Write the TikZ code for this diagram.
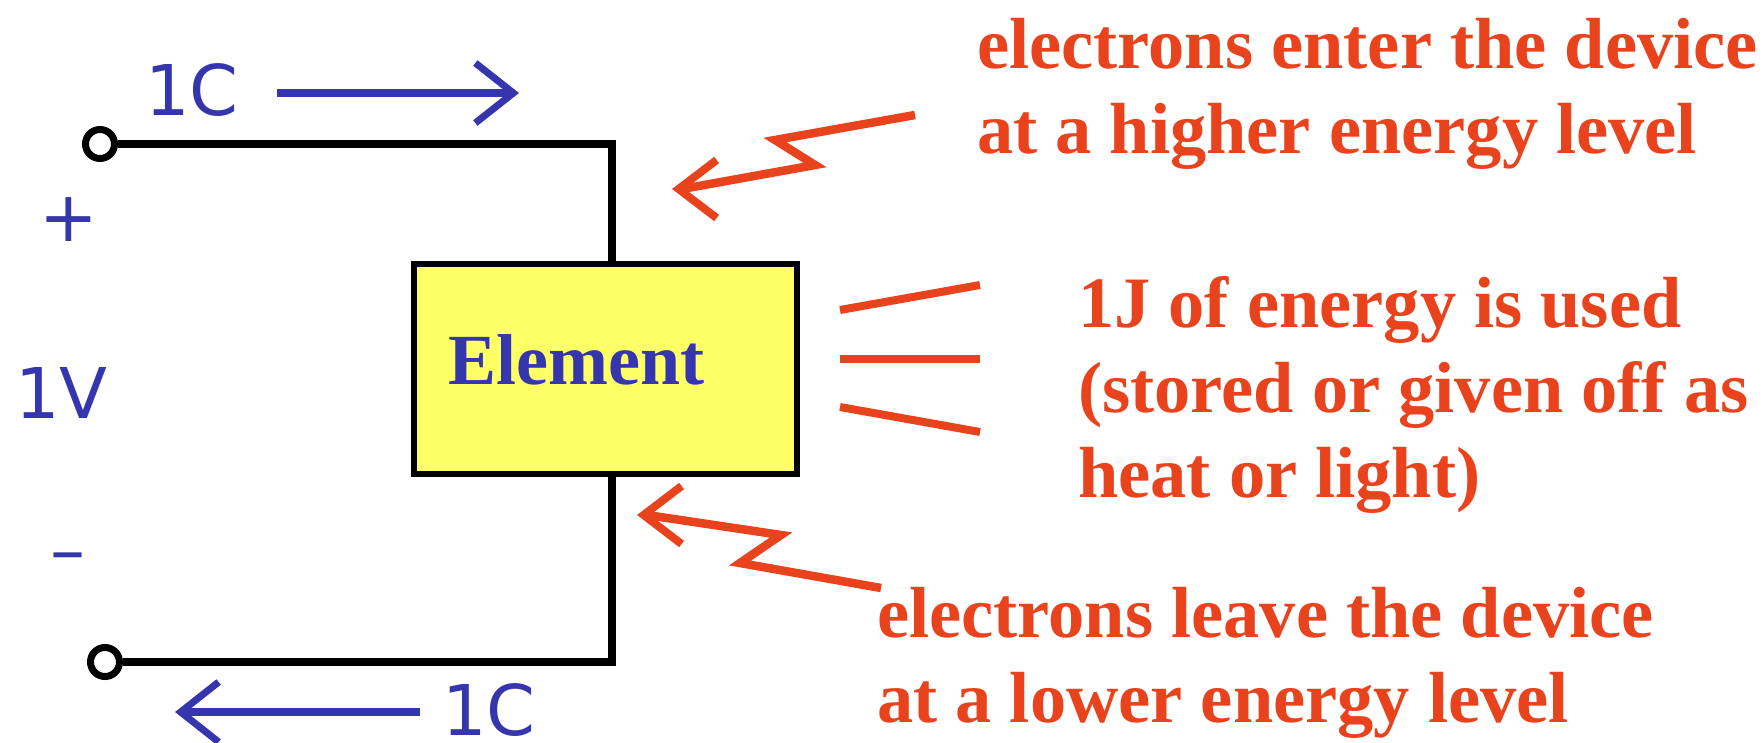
\documentclass[tikz,border=0pt]{standalone}
\usepackage{fontspec}
\setmainfont{Liberation Serif}
\newfontfamily\labelfont{DejaVu Sans}
\usetikzlibrary{arrows.meta, positioning}
\definecolor{mWireBlue}{HTML}{3535AE}
\definecolor{mNoteRed}{HTML}{E8431C}
\definecolor{mBoxYellow}{HTML}{FFFF66}
\begin{document}
\begin{tikzpicture}[x=1pt, y=-1pt, line join=miter,
    wire/.style={draw=black, line width=8pt},
    terminal/.style={draw=black, circle, fill=white, line width=7pt, minimum size=29pt, inner sep=0pt},
    flow/.style={draw=mWireBlue, line width=8pt, -{Straight Barb[length=38pt, width=60pt, line width=7pt]}},
    zig/.style={draw=mNoteRed, line width=8.5pt, -{Straight Barb[length=38pt, width=58pt, line width=8pt]}},
    ray/.style={draw=mNoteRed, line width=8pt},
    sign/.style={text=mWireBlue, font=\labelfont\fontsize{70}{70}\selectfont, inner sep=0pt},
    note/.style={text=mNoteRed, font=\bfseries\fontsize{72.4}{85}\selectfont, align=left, inner sep=0pt, anchor=north west}]
  \useasboundingbox (0,0) rectangle (1763,742);
  % circuit
  \node[draw=black, line width=6pt, fill=mBoxYellow, minimum width=383pt, minimum height=210pt, inner sep=0pt] (element) at (605,369) {};
  \node[text=mWireBlue, font=\bfseries\fontsize{72}{72}\selectfont, inner sep=0pt, anchor=base west] (elementtext) at (448,384) {Element};
  \node[terminal] (plus) at (100,144) {};
  \node[terminal] (minus) at (105,662) {};
  \coordinate (topcorner) at (612,142);
  \coordinate (botcorner) at (612,665);
  \draw[wire] (plus) -- (plus -| topcorner) -- ++(0,4) (topcorner) -- (topcorner |- element.north);
  \draw[wire] (minus) -- (minus -| botcorner) -- ++(0,4) (botcorner) -- (botcorner |- element.south);
  % labels
  \node[sign, anchor=base west] (qtop) at (145,115) {1C};
  \node[sign, anchor=base west] (qbot) at (442,735) {1C};
  \node[sign] (vplus) at (69,220) {+};
  \node[sign, anchor=base west] (volt) at (15,418) {1V};
  \node[sign] (vminus) at (68,564) {–};
  \coordinate (qtopa) at (277,93);
  \coordinate (qtopb) at (519,93);
  \coordinate (qbota) at (420,712);
  \coordinate (qbotb) at (175,712);
  \draw[flow] (qtopa) -- (qtopb);
  \draw[flow] (qbota) -- (qbotb);
  % notes
  \node[note] (enter) at (977,18) {electrons enter the device\\at a higher energy level};
  \node[note] (used) at (1078,276) {1J of energy is used\\(stored or given off as\\heat or light)};
  \node[note] (leave) at (877,587) {electrons leave the device\\at a lower energy level};
  \coordinate (entera) at (915,115);
  \coordinate (leavea) at (881,588);
  \draw[zig] (entera) -- (775,140) -- (815,165) -- (682,189) -- (672,189);
  \draw[zig] (leavea) -- (740,563) -- (781,535) -- (647,515) -- (637,515);
  \foreach \ya/\yb in {310/285, 359/359, 407/432}
    \draw[ray] (840,\ya) -- (980,\yb);
\end{tikzpicture}
\end{document}
